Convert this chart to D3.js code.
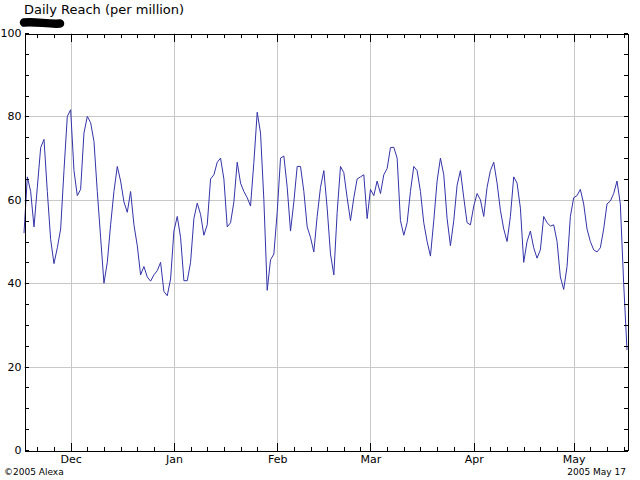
<!DOCTYPE html>
<html>
<head>
<meta charset="utf-8">
<script src="https://cdn.jsdelivr.net/npm/d3@7"></script>
<style>
  body { margin: 0; background: #fff; }
  svg { display: block; font-family: "DejaVu Sans", Verdana, sans-serif; }
</style>
</head>
<body>
<div id="chart"></div>
<script>
// daily reach values, one per day starting Nov 17 2004
const startDate = new Date(2004, 10, 17);
const endDate = new Date(2005, 4, 17);
const reach = [
  52, 65.5, 62, 53.5, 63, 72.5, 74.5, 62, 50.5, 44.7,
  48.5, 53, 67, 80, 81.6, 67, 61, 62.5, 76, 80,
  78.5, 74, 62, 51, 40, 45, 54, 62, 68, 64.5,
  59.5, 57, 62, 54, 49, 42, 44, 41.5, 40.5, 42,
  43, 45, 38, 37, 41, 52.5, 56, 51, 40.6, 40.6,
  45, 55.5, 59.2, 56.5, 51.5, 54, 65, 66, 69, 70,
  65, 53.5, 54.5, 59.5, 69, 64, 62, 60.5, 58.5, 69,
  81, 76, 60, 38.3, 45.6, 47, 57, 70, 70.5, 63,
  52.5, 59.5, 68, 68, 62, 53.5, 51, 47.5, 56, 63,
  67, 58, 47, 42, 57, 68, 66.5, 60.5, 55, 60.5,
  65, 65.5, 66, 55.5, 62.5, 61, 64.5, 61.5, 66, 67.5,
  72.5, 72.6, 70, 55, 51.5, 54.5, 62, 68, 67, 62,
  54.5, 50, 46.5, 55, 64.5, 70, 66, 55.5, 49, 55,
  63.5, 67, 60.5, 54.5, 54, 58.5, 61.5, 60, 56, 63,
  67, 69, 64, 57.5, 53, 50, 56, 65.5, 64, 58,
  45, 50, 52.5, 48.5, 46, 48, 56, 54.5, 53.7, 54,
  50, 41.5, 38.5, 44, 56, 60.5, 61, 62.5, 59, 53,
  50, 48, 47.5, 48.5, 53, 59, 59.7, 61.5, 64.5, 59,
  40, 24
];
const yGrid = [20, 40, 60, 80];
const yLabels = [0, 20, 40, 60, 80, 100];
const minorDays = [1, 6, 11, 16, 21, 26];
const titleText = 'Daily Reach (per million)';
const footLeft = '\u00a92005 Alexa';
const footRight = '2005 May 17';

const width = 640, height = 480;
const plotLeft = 24, plotRight = 627, plotTop = 33, plotBottom = 450;

const data = reach.map((v, i) => ({ date: d3.timeDay.offset(startDate, i), value: v }));

const svg = d3.select('#chart').append('svg')
    .attr('width', width)
    .attr('height', height);

const x = d3.scaleTime().domain([startDate, endDate]).range([plotLeft, plotRight]);
const y = d3.scaleLinear().domain([0, 100]).range([plotBottom, plotTop]);

const months = d3.timeMonth.range(d3.timeMonth.ceil(startDate), endDate);
const minorTicks = d3.timeDay.range(startDate, d3.timeDay.offset(endDate, 1))
    .filter(d => minorDays.includes(d.getDate()));

// grid
svg.append('g')
    .selectAll('line')
    .data(months)
    .join('line')
      .attr('x1', d => Math.round(x(d)) + 0.5)
      .attr('x2', d => Math.round(x(d)) + 0.5)
      .attr('y1', plotTop)
      .attr('y2', plotBottom)
      .attr('stroke', '#c8c8c8');
svg.append('g')
    .selectAll('line')
    .data(yGrid)
    .join('line')
      .attr('x1', plotLeft)
      .attr('x2', plotRight)
      .attr('y1', d => Math.round(y(d)) + 0.5)
      .attr('y2', d => Math.round(y(d)) + 0.5)
      .attr('stroke', '#c8c8c8');

// line
const line = d3.line()
    .x(d => x(d.date))
    .y(d => y(d.value));
svg.append('path')
    .datum(data)
    .attr('fill', 'none')
    .attr('stroke', '#3333aa')
    .attr('stroke-width', 1)
    .attr('d', line);

function styleAxis(g) {
    g.attr('font-family', '"DejaVu Sans", Verdana, sans-serif')
     .attr('font-size', 11);
    g.selectAll('line').attr('shape-rendering', 'crispEdges');
    g.selectAll('path').attr('shape-rendering', 'crispEdges');
    g.selectAll('text').attr('fill', '#000');
}

// left axis
svg.append('g')
    .attr('transform', 'translate(' + (plotLeft + 0.5) + ',0)')
    .call(d3.axisLeft(y)
        .tickValues(d3.range(0, 101, 5))
        .tickFormat(v => yLabels.includes(v) ? v : '')
        .tickSizeInner(-4)
        .tickSizeOuter(0)
        .tickPadding(3))
    .call(styleAxis);

// right axis
svg.append('g')
    .attr('transform', 'translate(' + (plotRight + 0.5) + ',0)')
    .call(d3.axisRight(y)
        .tickValues(d3.range(0, 101, 5))
        .tickFormat('')
        .tickSizeInner(-4)
        .tickSizeOuter(0))
    .call(styleAxis);

// bottom axis: minor ticks, then month ticks with labels
svg.append('g')
    .attr('transform', 'translate(0,' + (plotBottom + 0.5) + ')')
    .call(d3.axisBottom(x)
        .tickValues(minorTicks)
        .tickFormat('')
        .tickSizeInner(-4)
        .tickSizeOuter(0))
    .call(styleAxis);
svg.append('g')
    .attr('transform', 'translate(0,' + (plotBottom + 0.5) + ')')
    .call(d3.axisBottom(x)
        .tickValues(months)
        .tickFormat(d3.timeFormat('%b'))
        .tickSizeInner(-8)
        .tickSizeOuter(0)
        .tickPadding(5))
    .call(styleAxis);

// top axis
svg.append('g')
    .attr('transform', 'translate(0,' + (plotTop + 0.5) + ')')
    .call(d3.axisTop(x)
        .tickValues(minorTicks)
        .tickFormat('')
        .tickSizeInner(-4)
        .tickSizeOuter(0))
    .call(styleAxis);
svg.append('g')
    .attr('transform', 'translate(0,' + (plotTop + 0.5) + ')')
    .call(d3.axisTop(x)
        .tickValues(months)
        .tickFormat('')
        .tickSizeInner(-8)
        .tickSizeOuter(0))
    .call(styleAxis);

// title and redaction mark
svg.append('text')
    .attr('x', plotLeft)
    .attr('y', 14)
    .attr('font-size', 13)
    .attr('fill', '#000')
    .text(titleText);
svg.append('path')
    .attr('d', 'M24,22.5 C35,21 48,24.5 60,23.5')
    .attr('fill', 'none')
    .attr('stroke', '#000')
    .attr('stroke-width', 8.5)
    .attr('stroke-linecap', 'round');

// footer
svg.append('text')
    .attr('x', 4)
    .attr('y', 475)
    .attr('font-size', 9)
    .attr('fill', '#000')
    .text(footLeft);
svg.append('text')
    .attr('x', 626)
    .attr('y', 475)
    .attr('font-size', 9)
    .attr('text-anchor', 'end')
    .attr('fill', '#000')
    .text(footRight);
</script>
</body>
</html>
